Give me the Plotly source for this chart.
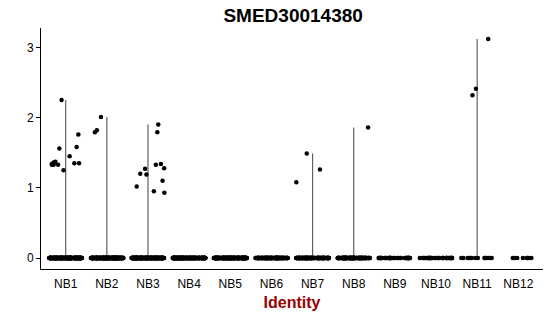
import numpy as np
import plotly.graph_objects as go

# ---- data ----
categories = ["NB1", "NB2", "NB3", "NB4", "NB5", "NB6",
              "NB7", "NB8", "NB9", "NB10", "NB11", "NB12"]

# number of cells with zero expression per identity (estimated)
zero_counts = [260, 260, 260, 240, 240, 150, 150, 150, 45, 40, 14, 8]

# non-zero expression values per identity
nb1_vals = [1.34, 1.35, 1.33, 1.36, 1.34, 1.33, 1.35, 1.33, 1.56, 1.58,
            1.45, 1.37, 1.25, 1.76, 2.25]
nb2_vals = [1.82, 1.79, 2.01]
nb3_vals = [1.33, 0.95, 0.93, 1.02, 1.90, 1.27, 1.79, 1.34, 1.28, 1.20,
            1.19, 1.10]
nb7_vals = [1.49, 1.26, 1.08]
nb8_vals = [1.86]
nb11_vals = [2.41, 3.12, 2.32]

nonzero = {
    "NB1": nb1_vals, "NB2": nb2_vals, "NB3": nb3_vals,
    "NB7": nb7_vals, "NB8": nb8_vals, "NB11": nb11_vals,
}

title = "SMED30014380"
x_title = "Identity"
y_ticks = [0, 1, 2, 3]

# ---- build ----
rng = np.random.default_rng(7)
fig = go.Figure()

px_x, px_y = [], []
for i, cat in enumerate(categories):
    pos = i + 1
    vals = [0.0] * zero_counts[i] + list(nonzero.get(cat, []))
    jit = rng.uniform(-0.4, 0.4, len(vals))
    px_x.extend(pos + jit)
    px_y.extend(vals)

# violins (degenerate: mostly zeros -> thin vertical lines up to max)
lx, ly = [], []
for i, cat in enumerate(categories):
    vals = nonzero.get(cat, [])
    if vals:
        lx += [i + 1, i + 1, None]
        ly += [0, max(vals), None]
fig.add_trace(go.Scatter(x=lx, y=ly, mode="lines",
                         line=dict(color="#606060", width=1.2),
                         hoverinfo="skip", showlegend=False))

fig.add_trace(go.Scatter(x=px_x, y=px_y, mode="markers",
                         marker=dict(color="black", size=4.5, line=dict(width=0)),
                         showlegend=False))

ymax = 3.12
ylo = -0.05 * ymax
yhi = ymax * 1.05
fig.update_layout(
    width=550, height=316,
    margin=dict(l=41, r=7, t=28, b=47),
    paper_bgcolor="white", plot_bgcolor="white",
    font=dict(family="Liberation Sans, Arial, sans-serif", color="black"),
    title=dict(text="<b>" + title + "</b>", x=0.533, xanchor="center",
               y=0.952, yanchor="middle",
               font=dict(size=19, color="black")),
    xaxis=dict(range=[0.4, 12.6], tickmode="array",
               tickvals=list(range(1, len(categories) + 1)),
               ticktext=categories, showgrid=False, zeroline=False,
               showline=True, linecolor="black", linewidth=1,
               ticks="outside", ticklen=4, tickcolor="rgba(0,0,0,0)",
               tickfont=dict(size=12, color="black"),
               title=dict(text="<b>" + x_title + "</b>",
                          font=dict(size=16, color="#990000"), standoff=6)),
    yaxis=dict(range=[ylo, yhi], tickvals=y_ticks, showgrid=False,
               zeroline=False, showline=True, linecolor="black", linewidth=1,
               ticks="outside", ticklen=4, tickcolor="black",
               tickfont=dict(size=12, color="black")),
)

fig.write_html("out.html")
